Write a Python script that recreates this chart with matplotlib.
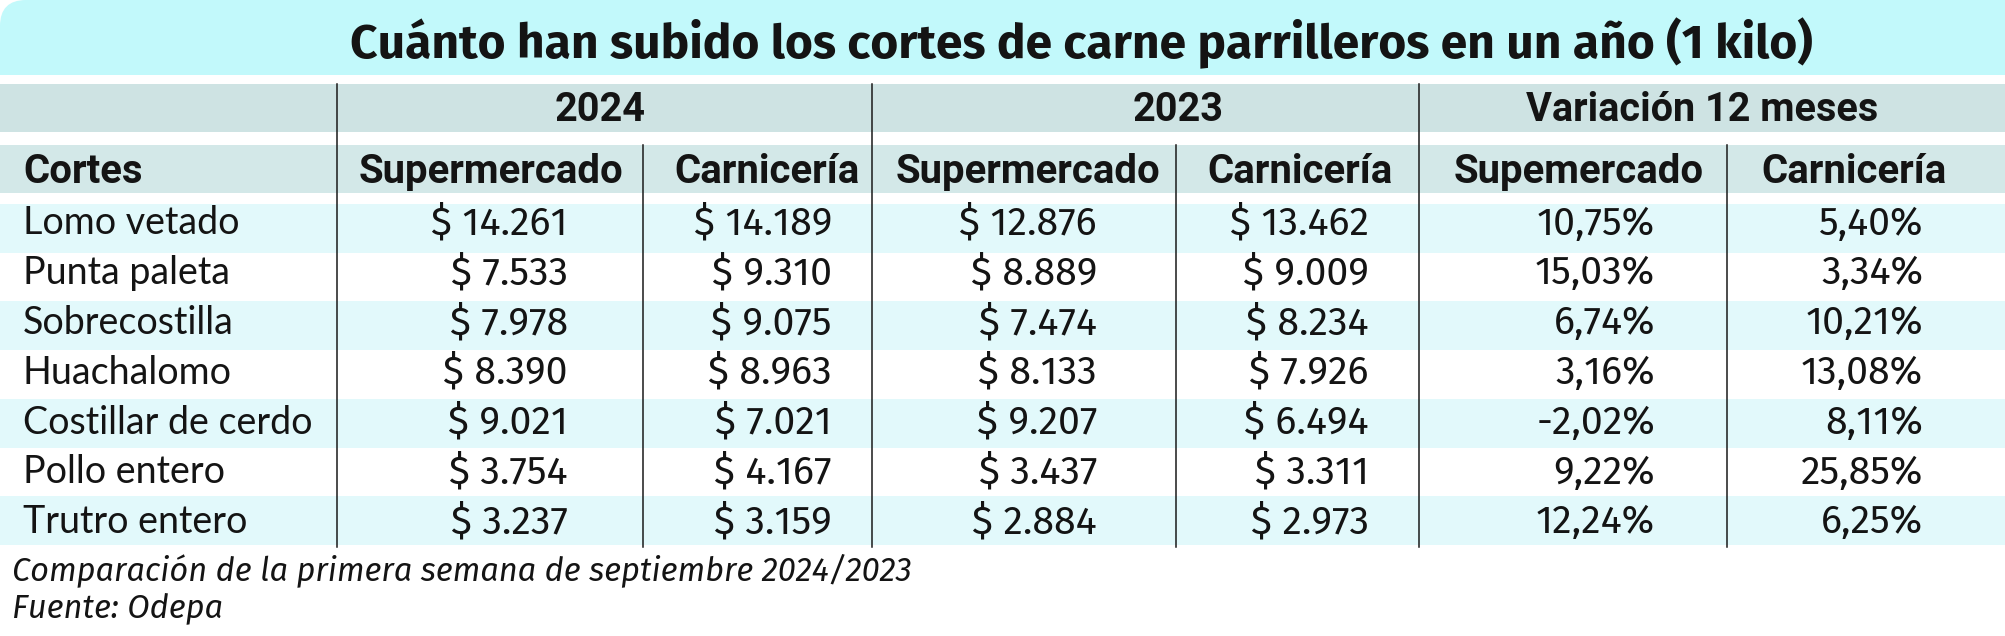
import matplotlib
matplotlib.use("Agg")
import matplotlib.pyplot as plt
from matplotlib import font_manager
from matplotlib.font_manager import FontProperties
from matplotlib.textpath import TextPath
from matplotlib.patches import Rectangle, FancyBboxPatch

# ---------------- data ----------------
title = "Cuánto han subido los cortes de carne parrilleros en un año (1 kilo)"
groups = ["2024", "2023", "Variación 12 meses"]
col_headers = ["Supermercado", "Carnicería", "Supermercado", "Carnicería", "Supemercado", "Carnicería"]
row_header = "Cortes"
cortes = ["Lomo vetado", "Punta paleta", "Sobrecostilla", "Huachalomo",
          "Costillar de cerdo", "Pollo entero", "Trutro entero"]
super_2024 = [14261, 7533, 7978, 8390, 9021, 3754, 3237]
carni_2024 = [14189, 9310, 9075, 8963, 7021, 4167, 3159]
super_2023 = [12876, 8889, 7474, 8133, 9207, 3437, 2884]
carni_2023 = [13462, 9009, 8234, 7926, 6494, 3311, 2973]
var_super = [10.75, 15.03, 6.74, 3.16, -2.02, 9.22, 12.24]
var_carni = [5.40, 3.34, 10.21, 13.08, 8.11, 25.85, 6.25]
notes = ["Comparación de la primera semana de septiembre 2024/2023", "Fuente: Odepa"]


def fmt_price(v):
    return "$ " + f"{v:,}".replace(",", ".")


def fmt_pct(v):
    return f"{v:.2f}".replace(".", ",") + "%"


W, H = 2005, 636
fig = plt.figure(figsize=(W / 100, H / 100), dpi=100)
ax = fig.add_axes([0, 0, 1, 1])
ax.set_xlim(0, W)
ax.set_ylim(H, 0)
ax.axis("off")
renderer = fig.canvas.get_renderer()
TXT = "#141414"


# ---------------- font selection ----------------
def _w(v):
    if isinstance(v, str):
        return font_manager.weight_dict.get(v, 400)
    return int(v)


def find_file(family, weight, italic):
    best = None
    for f in font_manager.fontManager.ttflist:
        if f.name != family:
            continue
        if italic != (f.style in ("italic", "oblique")):
            continue
        if abs(_w(f.weight) - weight) > 60:
            continue
        score = abs(_w(f.weight) - weight) + (50 if "[" in f.fname else 0)
        if best is None or score < best[0]:
            best = (score, f.fname)
    return best[1] if best else None


def cap_ratio(fp):
    p = TextPath((0, 0), "H", size=100, prop=fp)
    return p.get_extents().height / 100.0


def measure(fp, s):
    q = fp.copy()
    q.set_size(20)
    t = ax.text(0, 0, s, fontproperties=q)
    w = t.get_window_extent(renderer).width
    t.remove()
    return w


def choose(cands, weight, italic, sample, width, cap_target):
    best = None
    for idx, fam in enumerate(cands):
        fn = find_file(fam, weight, italic)
        if fn is None:
            continue
        fp = FontProperties(fname=fn)
        try:
            size = 20 * width / measure(fp, sample)
            cr = cap_ratio(fp)
        except Exception:
            continue
        cap = cr * size * 100 / 72
        score = abs(cap - cap_target) + 0.15 * idx
        if best is None or score < best[0]:
            best = (score, fp, size, cr)
    if best is None:
        fp = FontProperties(family="DejaVu Sans", weight="bold" if weight >= 600 else "normal",
                            style="italic" if italic else "normal")
        size = 20 * width / measure(fp, sample)
        best = (0, fp, size, cap_ratio(fp))
    _, fp, size, cr = best
    fp = fp.copy()
    fp.set_size(size)
    return fp, cr


humanist = ["Myriad Pro", "Source Sans 3", "Source Sans Pro", "PT Sans", "Fira Sans",
            "Noto Sans", "Open Sans", "Lato", "Roboto"]
condensed = ["Myriad Pro Condensed", "PT Sans Narrow", "Fira Sans Condensed",
             "Fira Sans Extra Condensed", "Roboto Condensed", "Asap Condensed",
             "Encode Sans Condensed", "IBM Plex Sans Condensed", "Liberation Sans Narrow"]

fp_title, cr_title = choose(humanist + condensed, 700, False, title, 1466, 33)
fp_head, cr_head = choose(humanist + condensed, 700, False, col_headers[5], 185, 29)
fp_data, cr_data = choose(humanist + condensed, 400, False, fmt_price(super_2024[0]), 136, 27)
fp_label, cr_label = choose(humanist + condensed, 400, False, cortes[6], 225, 27)
fp_note, cr_note = choose(humanist + condensed, 400, True, notes[1], 211, 23)

# group headers: same face as the column headers, sized to the measured width
fp_group = fp_head.copy()
fp_group.set_size(fp_head.get_size_in_points() * 351 / (measure(fp_head, groups[2]) *
                                                          fp_head.get_size_in_points() / 20))
cr_group = cr_head


def put(x, yc, s, fp, cr, ha="left"):
    px = fp.get_size_in_points() * 100 / 72
    ax.text(x, yc + 0.5 * cr * px, s, fontproperties=fp, ha=ha, va="baseline", color=TXT, zorder=4)


# ---------------- backgrounds ----------------
title_bg = "#C2F9FB"
hdr1_bg = "#CEE3E3"
hdr2_bg = "#D3E8E8"
row_bg = "#E2F9FB"

ax.add_patch(FancyBboxPatch((0, 0), W + 60, 75, boxstyle="round,pad=0,rounding_size=26",
                            fc=title_bg, ec="none", zorder=1))
ax.add_patch(Rectangle((0, 40), 60, 35, fc=title_bg, ec="none", zorder=1))
ax.add_patch(Rectangle((0, 84), W, 48, fc=hdr1_bg, ec="none", zorder=1))
ax.add_patch(Rectangle((0, 145), W, 48, fc=hdr2_bg, ec="none", zorder=1))

row_top = 204
row_h = 48.7
text_first = 221
text_step = 49.8
for i in range(len(cortes)):
    if i % 2 == 0:
        ax.add_patch(Rectangle((0, row_top + i * row_h), W, row_h, fc=row_bg, ec="none", zorder=1))
table_bottom = 547

for x in [337, 872, 1419]:
    ax.plot([x, x], [84, table_bottom], color="#1a1a1a", lw=1.1, zorder=3)
for x in [643, 1176, 1727]:
    ax.plot([x, x], [145, table_bottom], color="#1a1a1a", lw=1.1, zorder=3)

# ---------------- text ----------------
put(1081, 42, title, fp_title, cr_title, ha="center")
for gx, g in zip([600, 1178, 1702], groups):
    put(gx, 107, g, fp_group, cr_group, ha="center")

put(23, 169, row_header, fp_head, cr_head)
for hx, h in zip([491, 767, 1028, 1300, 1579, 1854], col_headers):
    put(hx, 169, h, fp_head, cr_head, ha="center")

cols = [
    (568, [fmt_price(v) for v in super_2024]),
    (832, [fmt_price(v) for v in carni_2024]),
    (1097, [fmt_price(v) for v in super_2023]),
    (1369, [fmt_price(v) for v in carni_2023]),
    (1655, [fmt_pct(v) for v in var_super]),
    (1923, [fmt_pct(v) for v in var_carni]),
]
for i, name in enumerate(cortes):
    yc = text_first + i * text_step
    put(23, yc, name, fp_label, cr_label)
    for rx, vals in cols:
        put(rx, yc, vals[i], fp_data, cr_data, ha="right")

put(12, 569, notes[0], fp_note, cr_note)
put(12, 607, notes[1], fp_note, cr_note)

fig.savefig("out.png", dpi=100)
